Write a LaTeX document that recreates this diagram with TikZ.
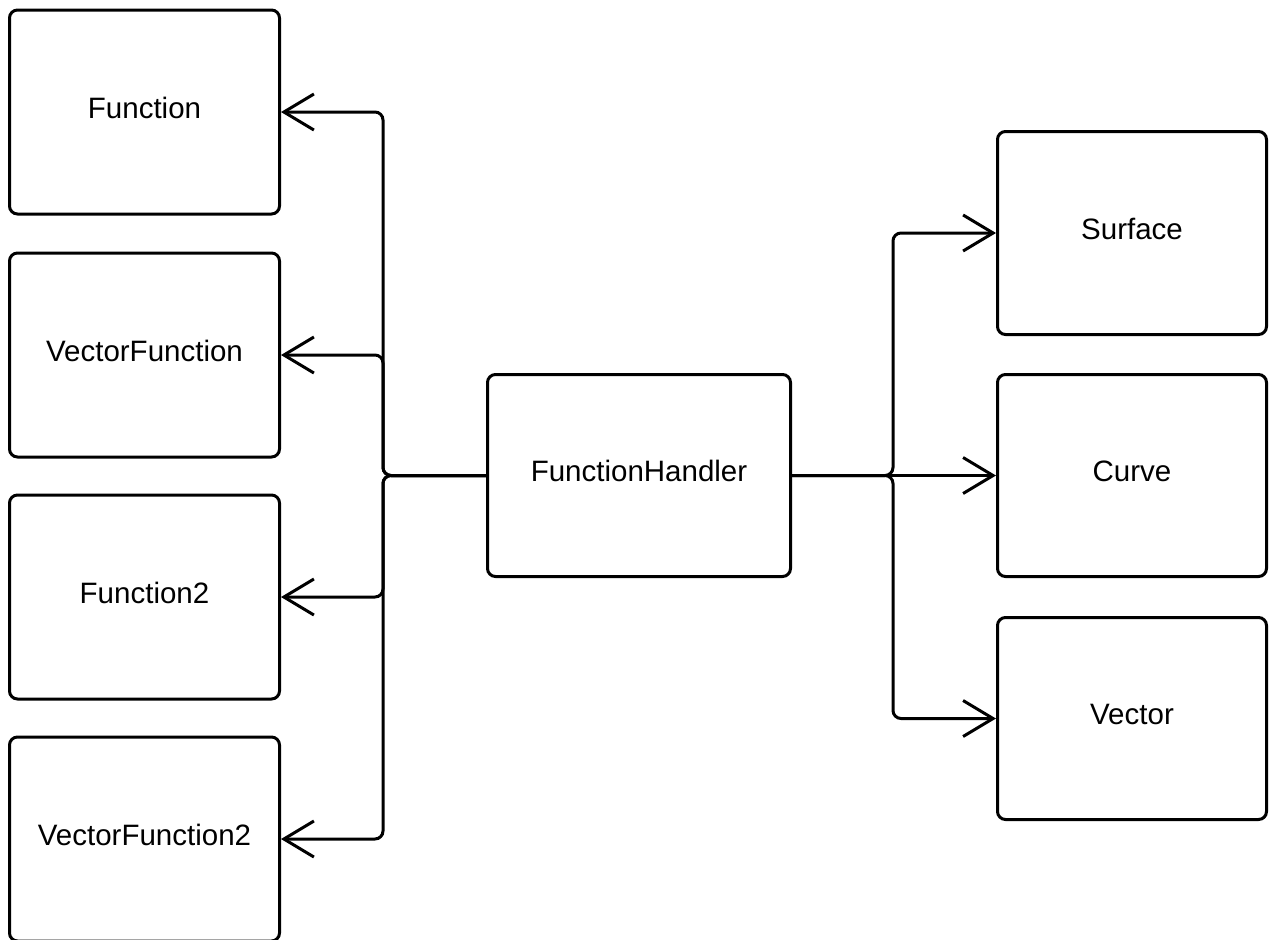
\documentclass[tikz,border=0pt]{standalone}
\usepackage{fontspec}
\setmainfont{Liberation Sans}
\usetikzlibrary{arrows.meta}
\begin{document}
\begin{tikzpicture}[x=1pt,y=-1pt,
  box/.style={draw=black, line width=3pt, rounded corners=8pt,
    inner sep=0pt, font=\fontsize{29.5}{35}\selectfont,
    text height=21pt, text depth=9pt},
  side/.style={box, minimum width=270pt, minimum height=204pt},
  link/.style={line width=3pt, rounded corners=8pt,
    -{Straight Barb[length=30pt,width=36pt]}}]
\useasboundingbox (0,0) rectangle (1270,940);

% class boxes, left column
\node[side] (fn)   at (144.5,112)   {Function};
\node[side] (vfn)  at (144.5,355)   {VectorFunction};
\node[side] (fn2)  at (144.5,597)   {Function2};
\node[side] (vfn2) at (144.5,839)   {VectorFunction2};

% central handler
\node[box, minimum width=303pt, minimum height=202pt] (fh) at (639,475.5) {FunctionHandler};

% class boxes, right column
\node[box, minimum width=269pt, minimum height=203pt] (surf) at (1132,233)   {Surface};
\node[box, minimum width=269pt, minimum height=202pt] (curv) at (1132,475.5) {Curve};
\node[box, minimum width=269pt, minimum height=202pt] (vec)  at (1132,718.5) {Vector};

% junction points of the two buses
\coordinate (lj) at (383,475.5);
\coordinate (rj) at (893,475.5);

% handler to left classes
\draw[link] (fh.west) -- (lj) |- (fn.east);
\draw[link] (fh.west) -- (lj) |- (vfn.east);
\draw[link] (fh.west) -- (lj) |- (fn2.east);
\draw[link] (fh.west) -- (lj) |- (vfn2.east);

% handler to right classes
\draw[link] (fh.east) -- (rj) |- (surf.west);
\draw[link] (fh.east) -- (rj) -- (curv.west);
\draw[link] (fh.east) -- (rj) |- (vec.west);
\end{tikzpicture}
\end{document}
